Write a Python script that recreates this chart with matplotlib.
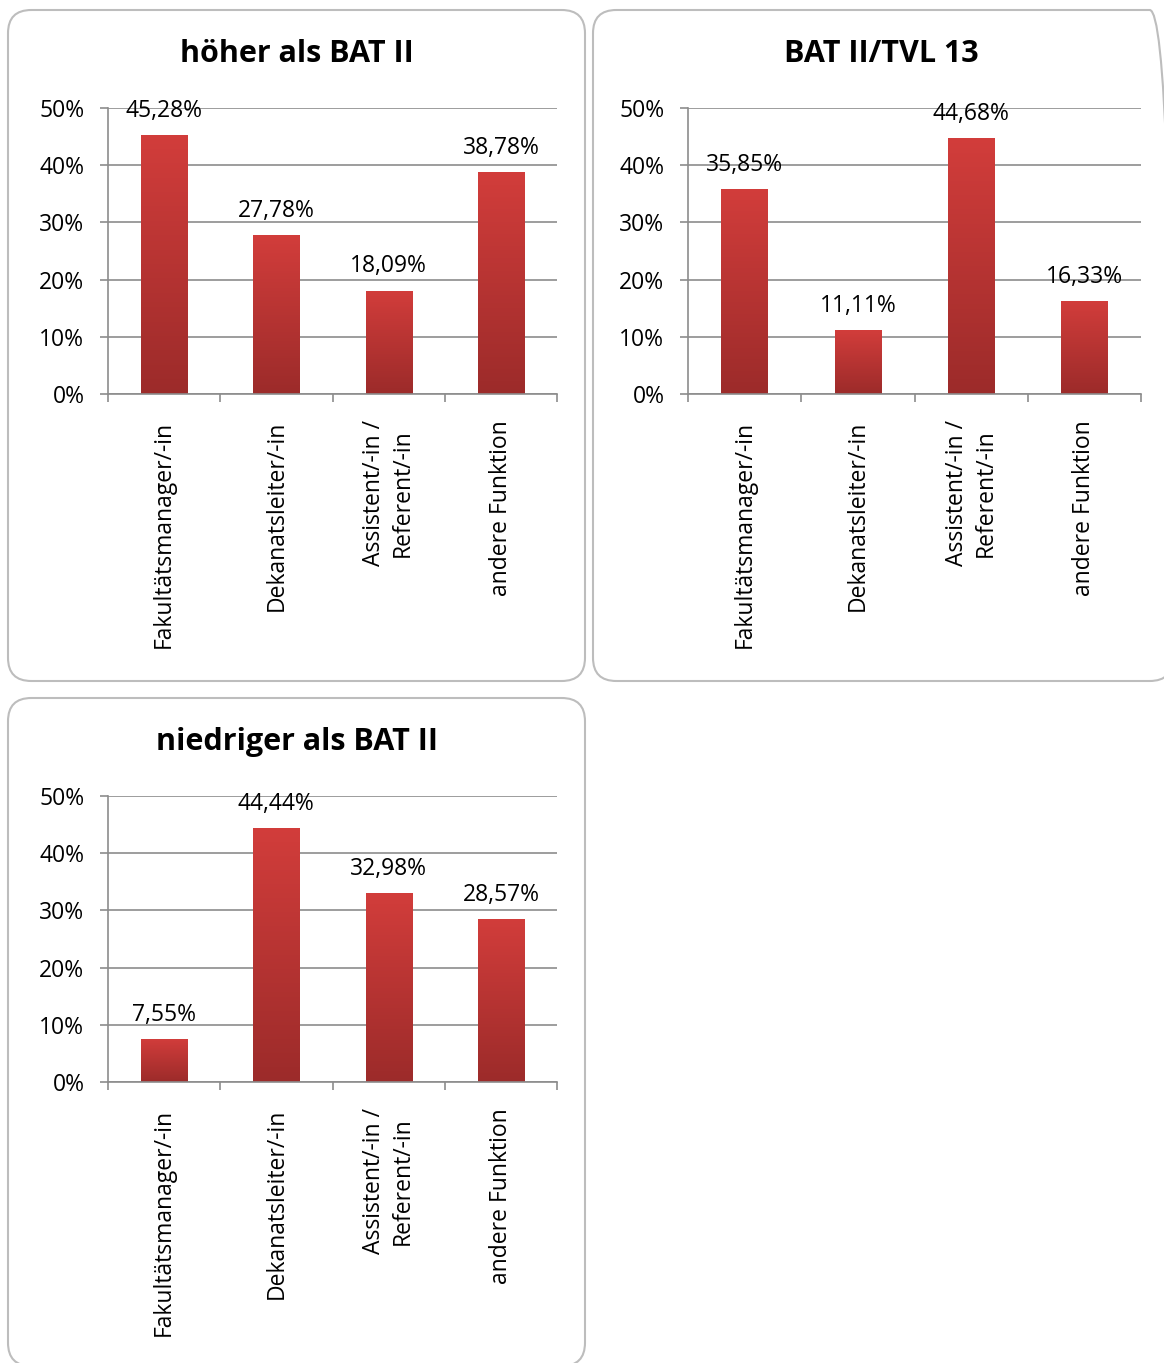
import numpy as np
import matplotlib
matplotlib.use("Agg")
import matplotlib.pyplot as plt
from matplotlib.patches import FancyBboxPatch
from matplotlib.colors import LinearSegmentedColormap
from matplotlib.ticker import FixedLocator, FuncFormatter

plt.rcParams['font.family'] = ['Open Sans', 'DejaVu Sans']

categories = ["Fakultätsmanager/-in", "Dekanatsleiter/-in",
              "Assistent/-in /\nReferent/-in", "andere Funktion"]
titles = ["höher als BAT II", "BAT II/TVL 13", "niedriger als BAT II"]
hoeher = [45.28, 27.78, 18.09, 38.78]
bat2 = [35.85, 11.11, 44.68, 16.33]
niedriger = [7.55, 44.44, 32.98, 28.57]
series = [hoeher, bat2, niedriger]
yticks = [0, 10, 20, 30, 40, 50]

W, H = 1164, 1363
fig = plt.figure(figsize=(W / 100, H / 100), dpi=100)

# panel frames (pixel coords: x0, y0_top, width, height)
frames = [(8, 10, 577, 671), (593, 10, 580, 671), (8, 698, 577, 668)]
frame_centers = [296.5, 881, 296.5]
# plot areas (pixel coords: left, top, right, bottom)
areas = [(108, 108, 557, 394), (688, 108, 1141, 394), (108, 796, 557, 1082)]
title_y = [54, 54, 742]

cmap = LinearSegmentedColormap.from_list("bar", ["#9c2b2a", "#d23d3b"])
grad = np.linspace(0, 1, 256).reshape(-1, 1)
FS = 16.5

for i in range(3):
    fx, fy, fw, fh = frames[i]
    box = FancyBboxPatch((fx / W, 1 - (fy + fh) / H), fw / W, fh / H,
                         boxstyle="round,pad=0,rounding_size=0.02",
                         transform=fig.transFigure, facecolor="none",
                         edgecolor="#bdbdbd", linewidth=1.5,
                         mutation_aspect=W / H, zorder=-1)
    fig.patches.append(box)
    l, t, r, b = areas[i]
    fig.text(frame_centers[i] / W, 1 - title_y[i] / H, titles[i], ha="center",
             va="center", fontsize=22, fontweight="bold")

    ax = fig.add_axes([l / W, 1 - b / H, (r - l) / W, (b - t) / H])
    ax.patch.set_visible(False)
    ax.set_xlim(-0.5, 3.5)
    ax.set_ylim(0, 50)
    for s in ["top", "right"]:
        ax.spines[s].set_visible(False)
    for s in ["left", "bottom"]:
        ax.spines[s].set_color("#8c8c8c")
        ax.spines[s].set_linewidth(1.2)
    ax.yaxis.set_major_locator(FixedLocator(yticks))
    ax.yaxis.set_major_formatter(FuncFormatter(lambda v, p: f"{int(v)}%"))
    ax.grid(axis="y", color="#8c8c8c", linewidth=1.2)
    ax.set_axisbelow(True)
    ax.tick_params(axis="y", length=6, color="#8c8c8c", width=1.2,
                   labelsize=FS, pad=11)
    ax.set_xticks([-0.5, 0.5, 1.5, 2.5, 3.5])
    ax.set_xticklabels([])
    ax.tick_params(axis="x", length=6, color="#8c8c8c", width=1.2)

    vals = series[i]
    bw = 0.41
    bars = ax.bar(range(4), vals, width=bw, color="none", zorder=2)
    for k, (bar, v) in enumerate(zip(bars, vals)):
        im = ax.imshow(grad, extent=(k - bw / 2, k + bw / 2, 0, v),
                       origin="lower", aspect="auto", cmap=cmap, zorder=2)
        im.set_clip_path(bar)
        ax.annotate(f"{v:.2f}%".replace(".", ","), (k, v),
                    xytext=(0, 13), textcoords="offset points",
                    ha="center", va="baseline", fontsize=FS)
    ax.set_xlim(-0.5, 3.5)
    ax.set_ylim(0, 50)

    for k, c in enumerate(categories):
        ax.annotate(c, (k, 0), xycoords=("data", "axes fraction"),
                    xytext=(0, -19), textcoords="offset points",
                    rotation=90, ha="center", va="top", fontsize=FS,
                    multialignment="center", linespacing=1.25)

fig.savefig("out.png", dpi=100, facecolor="white")
